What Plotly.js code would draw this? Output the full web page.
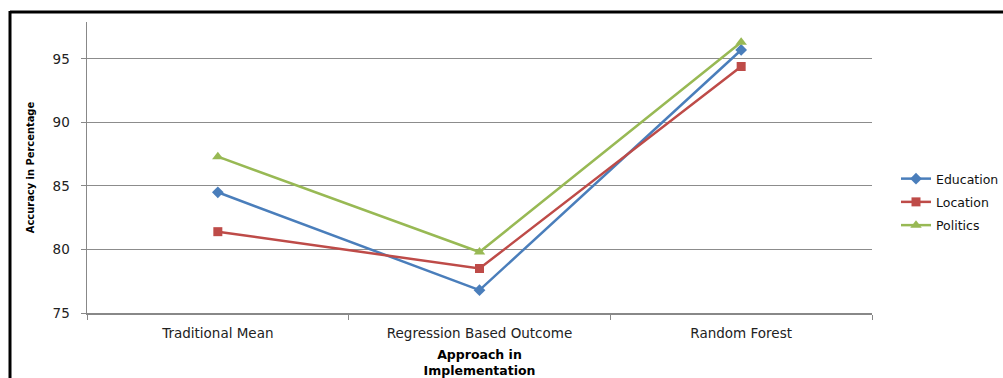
<!DOCTYPE html>
<html>
<head>
<meta charset="utf-8">
<script src="https://cdn.plot.ly/plotly-3.0.1.min.js"></script>
<style>html,body{margin:0;padding:0;background:#fff;}#chart{width:1003px;height:378px;}</style>
</head>
<body>
<div id="chart"></div>
<script>
const categories = ["Traditional Mean", "Regression Based Outcome", "Random Forest"];
const education = [84.5, 76.8, 95.7];
const location_ = [81.4, 78.5, 94.4];
const politics = [87.3, 79.8, 96.3];
const yTicks = [75, 80, 85, 90, 95];

const W = 1003, H = 378;
const m = {l: 87, r: 131, t: 22, b: 65, autoexpand: false};
const pw = W - m.l - m.r, ph = H - m.t - m.b;
const px = x => (x - m.l) / pw;
const py = y => (H - m.b - y) / ph;

const traces = [
  {name: "Education", y: education, color: "#4A7EBB", symbol: "diamond", size: 9},
  {name: "Location", y: location_, color: "#BE4B48", symbol: "square", size: 9},
  {name: "Politics", y: politics, color: "#98B954", symbol: "triangle-up", size: 10}
].map(s => ({
  type: "scatter", mode: "lines+markers", name: s.name, legendgroup: s.name,
  x: categories, y: s.y,
  line: {color: s.color, width: 2.5},
  marker: {color: s.color, symbol: s.symbol, size: s.size}
}));

const layout = {
  width: W, height: H,
  margin: m,
  paper_bgcolor: "#fff", plot_bgcolor: "#fff",
  font: {family: "DejaVu Sans, Verdana, sans-serif", size: 13, color: "#222"},
  showlegend: true,
  legend: {x: px(896), y: py(164), xanchor: "left", yanchor: "top",
           font: {family: "DejaVu Sans, sans-serif", size: 12.5, color: "#111"},
           tracegroupgap: 4, bgcolor: "rgba(0,0,0,0)"},
  xaxis: {
    type: "category", range: [-0.5, 2.5],
    tickson: "boundaries", ticks: "outside", ticklen: 5, tickcolor: "#888",
    ticklabelstandoff: 7,
    showline: true, linecolor: "#888", linewidth: 1.5,
    showgrid: false, zeroline: false,
    tickfont: {family: "DejaVu Sans, sans-serif", size: 13.5, color: "#222"},
    title: {text: "<b>Approach in<br>Implementation</b>", standoff: 24,
            font: {family: "DejaVu Sans, sans-serif", size: 12.5, color: "#000"}}
  },
  yaxis: {
    range: [75, 97.9], tickvals: yTicks, ticktext: yTicks.map(String),
    ticks: "outside", ticklen: 5, tickcolor: "#888",
    ticklabelstandoff: 8,
    showline: true, linecolor: "#888", linewidth: 1.5,
    showgrid: true, gridcolor: "#8c8c8c", gridwidth: 1, zeroline: false,
    tickfont: {family: "DejaVu Sans, sans-serif", size: 13.5, color: "#222"},
    title: {text: "<b>Accuracy in Percentage</b>", standoff: 16,
            font: {family: "DejaVu Sans Condensed, Liberation Sans Narrow, sans-serif", size: 11, color: "#000"}}
  },
  shapes: [
    {type: "line", xref: "paper", yref: "paper", x0: px(10), x1: px(1003), y0: py(12), y1: py(12),
     line: {color: "#000", width: 3}},
    {type: "line", xref: "paper", yref: "paper", x0: px(10), x1: px(10), y0: py(11), y1: py(378),
     line: {color: "#000", width: 3}}
  ]
};

Plotly.newPlot("chart", traces, layout, {displayModeBar: false, staticPlot: true});
</script>
</body>
</html>
